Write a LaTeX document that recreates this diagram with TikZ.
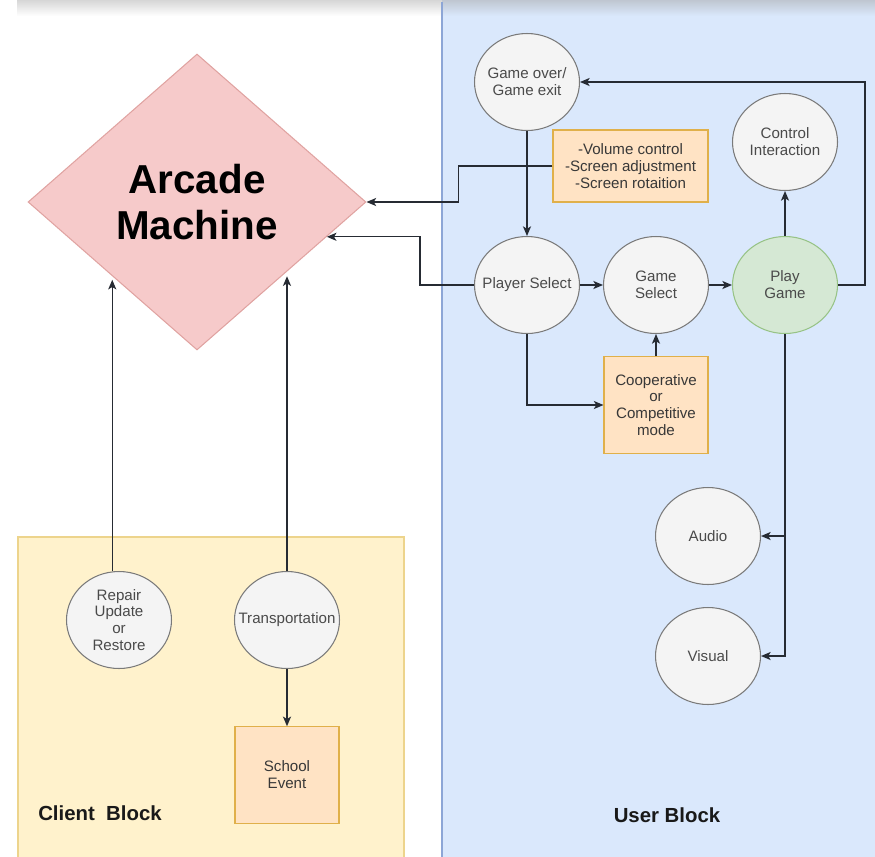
\documentclass[tikz,border=0pt]{standalone}
\usepackage{fontspec}
\setmainfont{Liberation Sans}
\usepackage{xcolor}
\usetikzlibrary{arrows.meta}
\usetikzlibrary{calc}
\usetikzlibrary{shapes.geometric}
\definecolor{userfill}{HTML}{DAE8FC}
\definecolor{userline}{HTML}{8DA6D6}
\definecolor{clientfill}{HTML}{FFF2CC}
\definecolor{clientline}{HTML}{EDD48C}
\definecolor{amfill}{HTML}{F6CACA}
\definecolor{amline}{HTML}{E0A3A1}
\definecolor{bubfill}{HTML}{F4F4F4}
\definecolor{bubline}{HTML}{7A7A7A}
\definecolor{bubtext}{HTML}{4A4A4A}
\definecolor{playfill}{HTML}{D5E8D4}
\definecolor{playline}{HTML}{97C386}
\definecolor{optfill}{HTML}{FFE3C4}
\definecolor{optline}{HTML}{E0B04A}
\definecolor{arrline}{HTML}{262B33}
\begin{document}
\begin{tikzpicture}[x=0.02cm,y=-0.02cm,
    bub/.style={ellipse,draw=bubline,fill=bubfill,line width=0.6pt,minimum width=\arcbubwidth,minimum height=\arcbubheight,inner sep=-0.6cm,align=center,text=bubtext,font=\fontsize{8.6}{9.6}\selectfont},
    playbub/.style={draw=playline,fill=playfill},
    optbox/.style={rectangle,draw=optline,fill=optfill,line width=0.6pt,minimum width=\arcboxwidth,minimum height=\arcboxheight,inner sep=0,align=center,text=black!78,font=\fontsize{8.6}{9.6}\selectfont},
    diam/.style={diamond,draw=amline,fill=amfill,line width=0.6pt,minimum width=6.76cm,minimum height=5.92cm,inner sep=0,align=center,font=\bfseries\fontsize{23}{26.6}\selectfont},
    lbl/.style={font=\bfseries\fontsize{11.6}{13}\selectfont,text=black!90},
    arr/.style={draw=arrline,line width=0.7pt,-{Stealth[length=5.5pt,width=4.6pt,inset=1.4pt]}}]
        \newcommand{\arcbubwidth}{2.1cm}
        \newcommand{\arcbubheight}{1.94cm}
        \newcommand{\arcboxwidth}{2.08cm}
        \newcommand{\arcboxheight}{1.93cm}
        \newcommand{\arcpanelx}{442}
        \useasboundingbox (0,0) rectangle (875,856);
        \fill[userfill] (\arcpanelx,0) rectangle (880,860);
        \filldraw[fill=clientfill,draw=clientline,line width=0.6pt] (18,537) rectangle (404,862);
        \shade[top color=black!16,bottom color=white] (17,0) rectangle (\arcpanelx,16);
        \shade[top color=userfill!75!black!70,bottom color=userfill] (\arcpanelx,0) rectangle (875,16);
        \draw[userline,line width=0.8pt] (\arcpanelx,2) -- (\arcpanelx,860);
        \node[diam] (am) at (197,202) {Arcade\\Machine};
        \node[bub] (go) at (527,82) {Game over/\\Game exit};
        \node[bub] (ps) at (527,285) {Player Select};
        \node[bub] (gs) at (656,285) {Game\\Select};
        \node[bub,playbub] (pg) at (785,285) {Play\\Game};
        \node[bub] (ci) at (785,142) {Control\\Interaction};
        \node[optbox,minimum width=3.1cm,minimum height=1.44cm] (set) at (630.5,166) {-Volume control\\-Screen adjustment\\-Screen rotaition};
        \node[optbox] (co) at (656,405) {Cooperative\\or\\Competitive\\mode};
        \node[bub] (au) at (708,536) {Audio};
        \node[bub] (vis) at (708,656) {Visual};
        \node[bub] (rep) at (119,620) {Repair\\Update\\or\\Restore};
        \node[bub] (tr) at (287,620) {Transportation};
        \node[optbox] (se) at (287,775) {School\\Event};
        \node[lbl] (cb) at (100,813) {Client~~Block};
        \node[lbl] (ub) at (667,815) {User Block};
        \draw[arr] (go.south) -- (ps.north);
        \draw[arr] (ps.east) -- (gs.west);
        \draw[arr] (gs.east) -- (pg.west);
        \draw[arr] (pg.north) -- (ci.south);
        \draw[arr] (pg.east) -- ++(27,0) |- (go.east);
        \draw[arr] (co.north) -- (gs.south);
        \draw[arr] (ps.south) |- (co.west);
        \draw[arr] (pg.south) |- (vis.east);
        \draw[arr] (pg.south |- au.east) -- (au.east);
        \draw[arr] (set.west) -- ++(-94,0) |- (am.east);
        \draw[arr] (ps.west) -- ++(-54,0) |- (am.-15);
        \draw[arr,shorten >=2pt] (rep.north -| am.south west) -- (am.south west);
        \draw[arr] (tr.north) -- (tr.north |- am.south east);
        \draw[arr] (tr.south) -- (se.north);
    \end{tikzpicture}
\end{document}
